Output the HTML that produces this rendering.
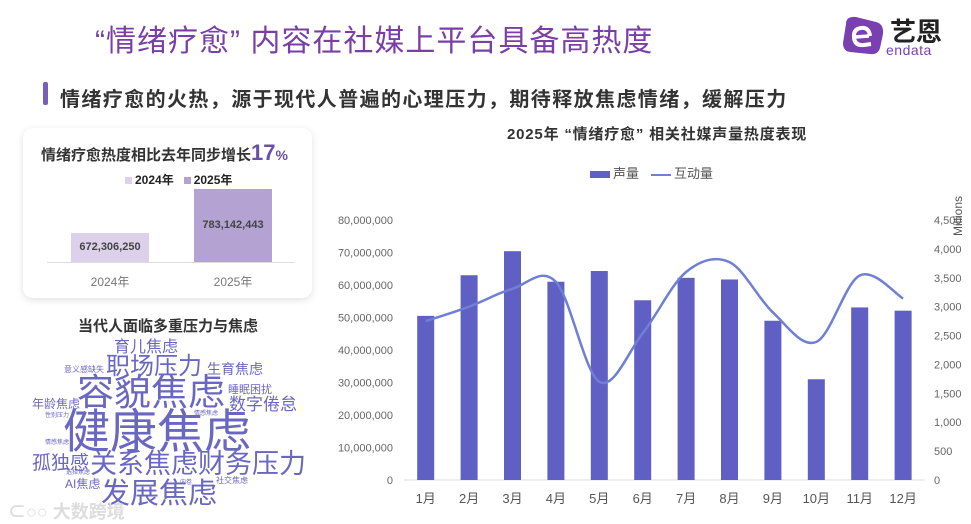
<!DOCTYPE html>
<html><head><meta charset="utf-8">
<style>
body{margin:0;width:971px;height:524px;background:#fff;position:relative;overflow:hidden;font-family:"Liberation Sans","Noto Sans CJK SC",sans-serif}
.abs{position:absolute;white-space:nowrap}
.wc{position:absolute;white-space:nowrap;color:#6a67c2;line-height:1}
</style></head><body>
<div class="abs" style="left:95px;top:16px;font-size:30px;color:#7a3fa6;letter-spacing:1px">“情绪疗愈” 内容在社媒上平台具备高热度</div>
<div class="abs" style="left:840px;top:12px;width:120px;height:46px">
 <svg width="46" height="42" style="position:absolute;left:0;top:2px"><path d="M6 10 Q6 2 16 3 L36 8 Q44 10 43 20 L40 34 Q38 41 30 40 L10 38 Q3 37 3 29 Z" fill="#7a3fb0"/><path d="M30 22 Q29 13 21 14 Q13 15 14 24 Q15 32 24 31 L31 30" stroke="#fff" stroke-width="4" fill="none"/><path d="M15 23 L29 22" stroke="#fff" stroke-width="3.5"/></svg>
 <div class="abs" style="left:50px;top:0;font-size:26px;font-weight:bold;color:#222">艺恩</div>
 <div class="abs" style="left:46px;top:30px;font-size:14px;color:#7a3fb0;letter-spacing:0.5px">endata</div>
</div>
<div class="abs" style="left:43px;top:82px;width:5px;height:23px;background:#7a5fb8;border-radius:2px"></div>
<div class="abs" style="left:60px;top:83px;font-size:20px;font-weight:bold;color:#333;letter-spacing:1.4px">情绪疗愈的火热，源于现代人普遍的心理压力，期待释放焦虑情绪，缓解压力</div>

<div class="abs" style="left:23px;top:128px;width:289px;height:170px;background:#fff;border-radius:10px;box-shadow:0 2px 8px rgba(0,0,0,0.12)">
 <div class="abs" style="left:18px;top:12px;font-size:15px;font-weight:bold;color:#333">情绪疗愈热度相比去年同步增长<span style="font-size:22px;color:#6a4fa8">17</span><span style="font-size:14px;color:#6a4fa8">%</span></div>
 <div class="abs" style="left:102px;top:43px;font-size:12px;font-weight:bold;color:#222"><span style="display:inline-block;width:7px;height:7px;background:#dcd0ea;margin-right:3px"></span>2024年 &nbsp;&nbsp;<span style="display:inline-block;width:7px;height:7px;background:#b4a2d2;margin-right:3px"></span>2025年</div>
 <div class="abs" style="left:48px;top:105px;width:78px;height:29px;background:#dcd0ea"></div>
 <div class="abs" style="left:48px;top:113px;width:78px;text-align:center;font-size:11px;font-weight:bold;color:#444">672,306,250</div>
 <div class="abs" style="left:171px;top:61px;width:78px;height:73px;background:#b4a2d2"></div>
 <div class="abs" style="left:171px;top:91px;width:78px;text-align:center;font-size:11px;font-weight:bold;color:#444">783,142,443</div>
 <div class="abs" style="left:24px;top:134px;width:248px;height:1px;background:#ddd"></div>
 <div class="abs" style="left:48px;top:145px;width:78px;text-align:center;font-size:12px;color:#777">2024年</div>
 <div class="abs" style="left:171px;top:145px;width:78px;text-align:center;font-size:12px;color:#777">2025年</div>
</div>

<div class="abs" style="left:78px;top:315px;font-size:15px;font-weight:bold;color:#333">当代人面临多重压力与焦虑</div>
<div>
<div class="wc" style="left:114px;top:340px;font-size:16px">育儿焦虑</div>
<div class="wc" style="left:106px;top:355px;font-size:24px">职场压力</div>
<div class="wc" style="left:207px;top:362px;font-size:14px">生育焦虑</div>
<div class="wc" style="left:64px;top:366px;font-size:8px">意义感缺失</div>
<div class="wc" style="left:77px;top:374px;font-size:37px">容貌焦虑</div>
<div class="wc" style="left:228px;top:385px;font-size:11px">睡眠困扰</div>
<div class="wc" style="left:32px;top:398px;font-size:12px">年龄焦虑</div>
<div class="wc" style="left:229px;top:396px;font-size:17px">数字倦怠</div>
<div class="wc" style="left:45px;top:413px;font-size:6px">性别压力</div>
<div class="wc" style="left:194px;top:411px;font-size:6px">情感焦虑</div>
<div class="wc" style="left:63px;top:408px;font-size:47px">健康焦虑</div>
<div class="wc" style="left:45px;top:440px;font-size:6px">情感焦虑</div>
<div class="wc" style="left:32px;top:454px;font-size:19px">孤独感</div>
<div class="wc" style="left:90px;top:451px;font-size:27px">关系焦虑财务压力</div>
<div class="wc" style="left:66px;top:470px;font-size:6px">选择焦虑</div>
<div class="wc" style="left:65px;top:478px;font-size:12px">AI焦虑</div>
<div class="wc" style="left:180px;top:480px;font-size:6px">内卷</div>
<div class="wc" style="left:216px;top:477px;font-size:8px">社交焦虑</div>
<div class="wc" style="left:101px;top:480px;font-size:29px">发展焦虑</div>
</div>
<div class="abs" style="left:8px;top:498px;font-size:18px;color:#ddd;font-weight:bold">⊂○○ 大数跨境</div>

<div class="abs" style="left:507px;top:123px;font-size:15px;font-weight:bold;color:#333;letter-spacing:0.8px">2025年 “情绪疗愈” 相关社媒声量热度表现</div>
<div class="abs" style="left:590px;top:163px;font-size:13px;color:#555"><span style="display:inline-block;width:20px;height:7px;background:#5f5fc4;vertical-align:middle;margin-right:3px"></span>声量</div>
<div class="abs" style="left:651px;top:163px;font-size:13px;color:#555"><span style="display:inline-block;width:20px;height:2px;background:#6f80d4;vertical-align:middle;margin-right:3px"></span>互动量</div>
<svg id="chart" class="abs" style="left:0;top:0" width="971" height="524"></svg>
<script>
const months=["1月","2月","3月","4月","5月","6月","7月","8月","9月","10月","11月","12月"];
const volume=[50.5,63,70.4,61,64.3,55.3,62.2,61.7,49,31,53.1,52.1];
const interaction=[2750,3000,3310,3430,1700,2540,3600,3770,2900,2390,3540,3140];
const leftTicks=[0,10,20,30,40,50,60,70,80];
const rightTicks=[0,500,1000,1500,2000,2500,3000,3500,4000,4500];
const svg=document.getElementById('chart');const NS='http://www.w3.org/2000/svg';
const x0=404,bw=43.4,yb=480,yt=220;
const xc=i=>x0+bw*(i+0.5);
const yl=v=>yb-(v/80)*(yb-yt);
const yr=v=>yb-(v/4500)*(yb-yt);
function mk(t,a){const e=document.createElementNS(NS,t);for(const k in a)e.setAttribute(k,a[k]);svg.appendChild(e);return e;}
const base=mk('line',{x1:x0,x2:x0+bw*12,y1:yb,y2:yb,stroke:'#ddd'});


leftTicks.forEach(v=>{const t=mk('text',{x:393,y:yl(v)+4,'text-anchor':'end','font-size':11,fill:'#666'});t.textContent=v===0?'0':(v*1000000).toLocaleString('en-US');

});
rightTicks.forEach(v=>{const t=mk('text',{x:934,y:yr(v)+4,'font-size':11,fill:'#666'});t.textContent=v.toLocaleString('en-US');

});
const mil=mk('text',{x:0,y:0,'font-size':12,fill:'#555',transform:'translate(962,236) rotate(-90)'});mil.textContent='Millions';


volume.forEach((v,i)=>{const r=mk('rect',{x:xc(i)-8.5,y:yl(v),width:17,height:yb-yl(v),fill:'#5f5fc4'});

});
months.forEach((m,i)=>{const t=mk('text',{x:xc(i),y:503,'text-anchor':'middle','font-size':13,fill:'#555'});t.textContent=m;

});
const pts=interaction.map((v,i)=>[xc(i),yr(v)]);
let d='M'+pts[0][0]+','+pts[0][1];
for(let i=0;i<pts.length-1;i++){const p0=pts[i-1]||pts[i],p1=pts[i],p2=pts[i+1],p3=pts[i+2]||p2;
d+=' C'+(p1[0]+(p2[0]-p0[0])/6)+','+(p1[1]+(p2[1]-p0[1])/6)+' '+(p2[0]-(p3[0]-p1[0])/6)+','+(p2[1]-(p3[1]-p1[1])/6)+' '+p2[0]+','+p2[1];}
const ln=mk('path',{d:d,fill:'none',stroke:'#6f80d4','stroke-width':2.5});


</script>
</body></html>
